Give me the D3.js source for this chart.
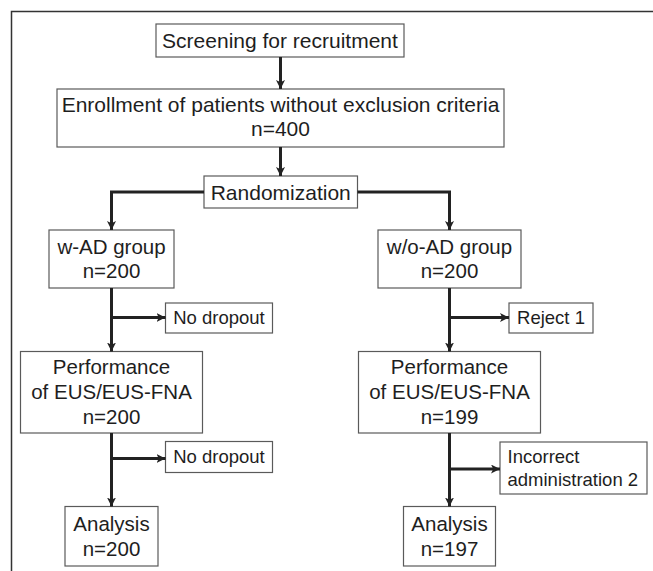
<!DOCTYPE html>
<html>
<head>
<meta charset="utf-8">
<script src="https://cdn.jsdelivr.net/npm/d3@7"></script>
<style>
  body { margin: 0; background: #fff; }
  svg text { font-family: "Liberation Sans", Arial, sans-serif; fill: #1e1e1e; }
  .box { fill: #fff; stroke: #5a5a5a; stroke-width: 1.2; }
  .link { fill: none; stroke: #222; stroke-width: 3; }
</style>
</head>
<body>
<div id="chart"></div>
<script>
// flow data
var stages = ["Screening for recruitment", "Enrollment of patients without exclusion criteria", "Randomization"];
var enrolledN = 400;
var groups = ["w-AD group", "w/o-AD group"];
var groupN = [200, 200];
var performanceN = [200, 199];
var analysisN = [200, 197];
var exclusion1 = [["No dropout"], ["Reject 1"]];
var exclusion2 = [["No dropout"], ["Incorrect", "administration 2"]];

// layout: column centres and row extents
var col = d3.scaleOrdinal().domain(["left", "mid", "right"]).range([111.5, 280.5, 449.5]);
var row = {
  screen: [24, 57], enroll: [89, 147], rand: [176, 208],
  group: [230, 288], perf: [351.5, 433], anal: [506.5, 566],
  ex1: [303, 333]
};

var width = 653, height = 571;
var svg = d3.select("#chart").append("svg")
    .attr("width", width)
    .attr("height", height);

svg.append("defs").append("marker")
    .attr("id", "arr")
    .attr("markerUnits", "userSpaceOnUse")
    .attr("viewBox", "0 0 10 10")
    .attr("refX", 10).attr("refY", 5)
    .attr("markerWidth", 9).attr("markerHeight", 9)
    .attr("orient", "auto")
    .append("path")
    .attr("d", "M0,0 L10,5 L0,10 L2.5,5 Z")
    .attr("fill", "#222");

// outer frame (open to the right and bottom)
svg.append("path")
    .attr("d", "M" + width + ",11.5 H11.5 V" + height)
    .attr("fill", "none")
    .attr("stroke", "#333")
    .attr("stroke-width", 1.5);

var boxes = [];
var side = ["left", "right"];

boxes.push({x0: 156, x1: 404, y: row.screen, lines: [stages[0]], size: 21, base: [47.5]});
boxes.push({x0: 57, x1: 504, y: row.enroll, lines: [stages[1], "n=" + enrolledN], size: 21, base: [111.5, 136]});
boxes.push({x0: 204, x1: 357.5, y: row.rand, lines: [stages[2]], size: 21, base: [199.5]});

var halfW = {group: [62.5, 71.5], perf: [91, 91], anal: [46.5, 46]};
groups.forEach(function(g, i) {
  var cx = col(side[i]);
  boxes.push({x0: cx - halfW.group[i], x1: cx + halfW.group[i], y: row.group,
    lines: [g, "n=" + groupN[i]], size: 20.5, base: [253.5, 278]});
  boxes.push({x0: cx - halfW.perf[i], x1: cx + halfW.perf[i], y: row.perf,
    lines: ["Performance", "of EUS/EUS-FNA", "n=" + performanceN[i]], size: 20.5, base: [373.5, 398.5, 423.5]});
  boxes.push({x0: cx - halfW.anal[i], x1: cx + halfW.anal[i], y: row.anal,
    lines: ["Analysis", "n=" + analysisN[i]], size: 20.5, base: [531, 555.5]});
});

// side boxes for dropouts
var ex1X = [[165.5, 272.5], [509, 593]];
var ex2X = [[165.5, 272.5], [500, 647]];
var ex2Y = [[441.5, 472.5], [442, 494]];
exclusion1.forEach(function(l, i) {
  boxes.push({x0: ex1X[i][0], x1: ex1X[i][1], y: row.ex1, lines: l, size: 18.5, base: [323.5]});
});
exclusion2.forEach(function(l, i) {
  boxes.push({x0: ex2X[i][0], x1: ex2X[i][1], y: ex2Y[i], lines: l, size: 18.5,
    base: l.length > 1 ? [463, 485.5] : [463], anchor: l.length > 1 ? "start" : "middle"});
});

var g = svg.selectAll(".node")
    .data(boxes)
    .enter().append("g")
    .attr("class", "node");

g.append("rect")
    .attr("class", "box")
    .attr("x", function(d) { return d.x0; })
    .attr("y", function(d) { return d.y[0]; })
    .attr("width", function(d) { return d.x1 - d.x0; })
    .attr("height", function(d) { return d.y[1] - d.y[0]; });

g.each(function(d) {
  var el = d3.select(this);
  d.lines.forEach(function(t, k) {
    el.append("text")
        .attr("x", d.anchor === "start" ? d.x0 + 7.5 : (d.x0 + d.x1) / 2)
        .attr("y", d.base[k])
        .attr("text-anchor", d.anchor || "middle")
        .style("font-size", d.size + "px")
        .text(t);
  });
});

// connectors
var links = [];
links.push({d: "M" + col("mid") + "," + row.screen[1] + " V" + row.enroll[0], arrow: true});
links.push({d: "M" + col("mid") + "," + row.enroll[1] + " V" + row.rand[0], arrow: true});
var ry = (row.rand[0] + row.rand[1]) / 2;
links.push({d: "M204," + ry + " H" + col("left") + " V" + row.group[0], arrow: true});
links.push({d: "M357.5," + ry + " H" + col("right") + " V" + row.group[0], arrow: true});
var branch1 = [317.5, 317.5], branch2 = [458.5, 469];
side.forEach(function(s, i) {
  var cx = col(s);
  links.push({d: "M" + cx + "," + row.group[1] + " V" + row.perf[0], arrow: true});
  links.push({d: "M" + cx + "," + branch1[i] + " H" + ex1X[i][0], arrow: true});
  links.push({d: "M" + cx + "," + row.perf[1] + " V" + row.anal[0], arrow: true});
  links.push({d: "M" + cx + "," + branch2[i] + " H" + ex2X[i][0], arrow: true});
});

svg.selectAll(".link")
    .data(links)
    .enter().append("path")
    .attr("class", "link")
    .attr("d", function(d) { return d.d; })
    .attr("marker-end", function(d) { return d.arrow ? "url(#arr)" : null; });
</script>
</body>
</html>
